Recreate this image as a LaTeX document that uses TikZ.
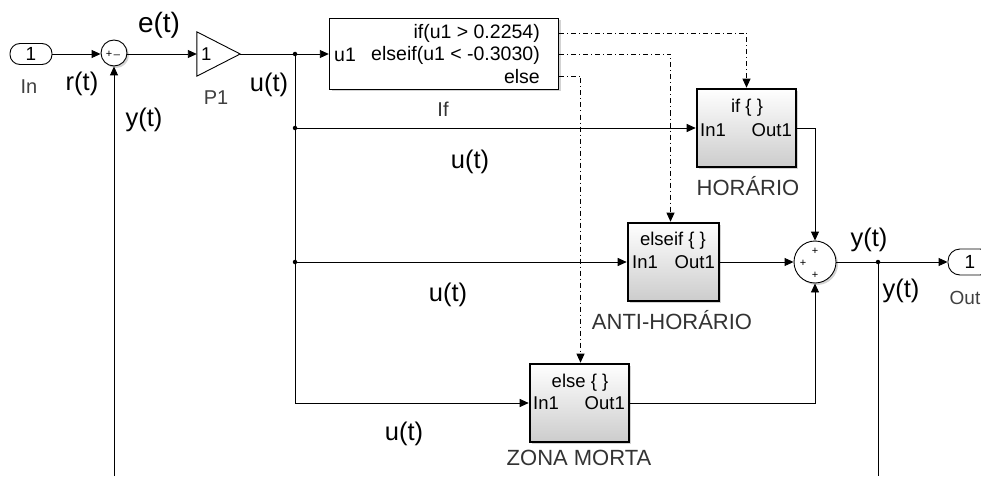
\documentclass[tikz,border=0pt]{standalone}
\usepackage{fontspec}
\setmainfont{Liberation Sans}
\usetikzlibrary{arrows.meta,shadows}

\tikzset{
  sig/.style={-{Triangle[length=9pt,width=8pt]}, line width=0.9pt},
  wire/.style={line width=0.9pt},
  ctrl/.style={-{Triangle[length=9pt,width=8pt]}, line width=0.9pt, dash pattern=on 5pt off 3pt on 1pt off 3pt},
  port/.style={draw, line width=0.9pt, rounded corners=10pt, minimum width=42pt, minimum height=21pt, inner sep=0pt, font=\fontsize{19}{19}\selectfont},
  sumblk/.style={draw, circle, line width=0.9pt, fill=white, inner sep=0pt, drop shadow={opacity=0.35, shadow xshift=2pt, shadow yshift=-2pt}},
  subsys/.style={draw, line width=2.6pt, minimum height=78pt, inner sep=0pt, top color=white, bottom color=black!20, drop shadow={opacity=0.35, shadow xshift=2pt, shadow yshift=-2pt}},
  btext/.style={inner sep=0pt, font=\fontsize{18.5}{18.5}\selectfont},
  bname/.style={inner sep=0pt, text=black!80, font=\fontsize{22}{22}\selectfont},
  pname/.style={inner sep=0pt, text=black!75, font=\fontsize{20}{20}\selectfont},
  sigtext/.style={inner sep=0pt, font=\fontsize{25.5}{25.5}\selectfont},
  signtext/.style={inner sep=0pt, font=\fontsize{11}{11}\selectfont},
  dot/.style={circle, fill, inner sep=0pt, minimum size=4.5pt}
}

\begin{document}
\begin{tikzpicture}[x=1pt, y=-1pt]

	\useasboundingbox (0,0) rectangle (981,476);

	% define points

	\coordinate (j1) at (295,54);
	\coordinate (j4) at (295,403);
	\coordinate (fb1) at (114,476);
	\coordinate (fb2) at (878,476);
	\coordinate (ifport) at (559,33);
	\coordinate (elseifport) at (559,54);
	\coordinate (elseport) at (559,76);

	% blocks

	\node[port] (in) at (31,54) {1};
	\node[pname] (inname) at (29,87) {In};

	\node[sumblk, minimum size=26pt] (sum1) at (114,53) {};
	\node[signtext] (sum1p) at (109,54) {+};
	\node[signtext] (sum1m) at (117,55) {\_};

	\node[minimum width=43pt, minimum height=44pt, inner sep=0pt] (gain) at (218.5,54) {};
	\draw[line width=0.9pt, fill=white] (gain.north west) -- (gain.east) -- (gain.south west) -- cycle;
	\node[btext, anchor=west] (gainval) at (201,54) {1};
	\node[pname] (gainname) at (216,98) {P1};

	\node[draw, line width=1.4pt, fill=white, minimum width=229pt, minimum height=71pt, drop shadow={opacity=0.35, shadow xshift=2pt, shadow yshift=-2pt}] (ifb) at (444,54) {};
	\node[btext, anchor=east, font=\fontsize{19.5}{19.5}\selectfont] (ifrow1) at (540,33) {if(u1 > 0.2254)};
	\node[btext, anchor=east, font=\fontsize{19.5}{19.5}\selectfont] (ifrow2) at (540,55) {elseif(u1 < -0.3030)};
	\node[btext, anchor=east, font=\fontsize{19.5}{19.5}\selectfont] (ifrow3) at (540,77) {else};
	\node[btext, anchor=west, font=\fontsize{19.5}{19.5}\selectfont] (ifin) at (334,55) {u1};
	\node[btext, text=black!80, font=\fontsize{20}{20}\selectfont] (ifname) at (443,109) {If};

	\node[subsys, minimum width=99pt] (hor) at (746.5,128) {};
	\node[btext] (hortop) at (747,108) {if \{ \}};
	\node[btext, anchor=west] (horin) at (700,130) {In1};
	\node[btext, anchor=east] (horout) at (792,130) {Out1};
	\node[bname] (horname) at (748,186) {HORÁRIO};

	\node[subsys, minimum width=91pt] (anti) at (673.5,262) {};
	\node[btext] (antitop) at (673,241) {elseif \{ \}};
	\node[btext, anchor=west] (antiin) at (632,262) {In1};
	\node[btext, anchor=east] (antiout) at (715,262) {Out1};
	\node[bname] (antiname) at (672,320) {ANTI-HORÁRIO};

	\node[subsys, minimum width=99pt] (zona) at (579.5,403) {};
	\node[btext] (zonatop) at (580,383) {else \{ \}};
	\node[btext, anchor=west] (zonain) at (533,403) {In1};
	\node[btext, anchor=east] (zonaout) at (625,403) {Out1};
	\node[bname] (zonaname) at (579,458) {ZONA MORTA};

	\node[sumblk, minimum size=42pt] (sum2) at (815,262) {};
	\node[signtext] (sum2a) at (815,251) {+};
	\node[signtext] (sum2b) at (803,263) {+};
	\node[signtext] (sum2c) at (815,275) {+};

	\node[port, minimum width=44pt, minimum height=26pt, rounded corners=12pt] (out) at (970,262) {1};
	\node[pname, font=\fontsize{19}{19}\selectfont] (outname) at (965,298) {Out};

	% signals

	\draw[sig] (in) -- (sum1.west |- in);
	\draw[sig] (sum1.east |- in) -- (gain.west);
	\draw[wire] (gain.east) -- (j1);
	\draw[sig] (j1) -- (ifb.west);
	\draw[wire] (j1) -- (j4);
	\draw[sig] (j4) -- (zona.west);
	\draw[sig] (hor.west -| j1) node[dot] (j2) {} -- (hor.west);
	\draw[sig] (anti.west -| j1) node[dot] (j3) {} -- (anti.west);
	\node[dot] (j1dot) at (j1) {};

	\draw[ctrl] (ifport) -| (hor.north);
	\draw[ctrl] (elseifport) -| ([xshift=-3pt]anti.north);
	\draw[ctrl] (elseport) -| ([xshift=1pt]zona.north);

	\draw[sig] (hor.east) -| (sum2);
	\draw[sig] (anti.east) -- (sum2);
	\draw[sig] (zona.east) -| (sum2);
	\draw[sig] (sum2) -- (out);
	\node[dot] (j5) at (878,262) {};
	\draw[wire] (j5.center) -- (fb2);
	\draw[sig] (fb1) -- (sum1);

	% labels

	\node[sigtext, font=\fontsize{28}{28}\selectfont] (et) at (159,25) {e(t)};
	\node[sigtext] (rt) at (82,84) {r(t)};
	\node[sigtext] (yt1) at (144,120) {y(t)};
	\node[sigtext] (ut1) at (269,85) {u(t)};
	\node[sigtext] (ut2) at (470,162) {u(t)};
	\node[sigtext] (ut3) at (448,295) {u(t)};
	\node[sigtext] (ut4) at (404,434) {u(t)};
	\node[sigtext] (yt2) at (869,240) {y(t)};
	\node[sigtext] (yt3) at (901,291) {y(t)};

\end{tikzpicture}
\end{document}
